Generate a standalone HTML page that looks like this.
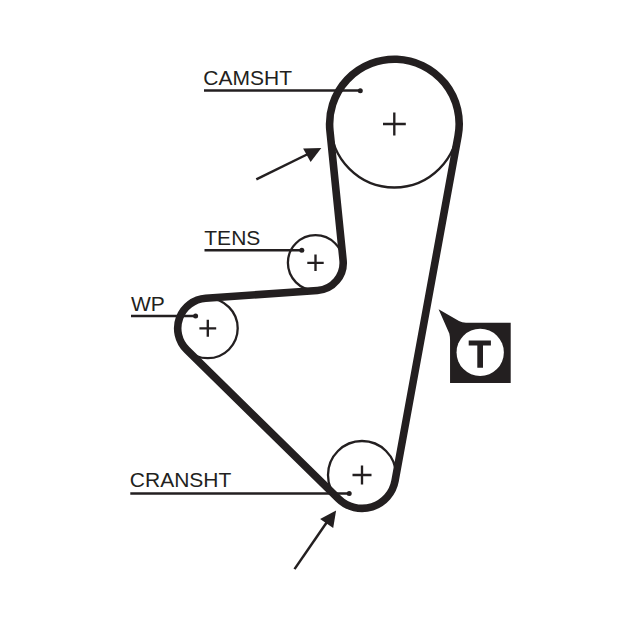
<!DOCTYPE html>
<html><head><meta charset="utf-8"><style>
html,body{margin:0;padding:0;background:#fff;}
body{width:640px;height:628px;overflow:hidden;position:relative;}
svg{position:absolute;left:0;top:0;}
text{font-family:"Liberation Sans",sans-serif;font-size:21px;fill:#231f20;}
</style></head><body>
<svg width="640" height="628" viewBox="0 0 640 628">
<g fill="none" stroke="#231f20" stroke-width="2.3">
<circle cx="394.3" cy="124" r="63.5"/>
<circle cx="315.5" cy="262.8" r="27.6"/>
<circle cx="207.8" cy="328.3" r="29.9"/>
<circle cx="362" cy="475" r="34"/>
</g>
<path d="M458.14 135.65 L395.05 480.84 A33.60 33.60 0 0 1 338.46 498.78 L186.71 349.78 A30.10 30.10 0 0 1 205.69 298.27 L317.44 290.43 A27.70 27.70 0 0 0 343.06 260.01 L329.93 130.54 A64.80 64.80 0 1 1 458.14 135.65 Z" fill="none" stroke="#231f20" stroke-width="7.6" stroke-linejoin="round"/>
<g stroke="#231f20" stroke-width="2.35" fill="none">
<path d="M383 124H405.8M394.3 112.5V135.5"/>
<path d="M307.3 262.8H323.7M315.5 254.6V271"/>
<path d="M199.4 328.3H216.2M207.8 319.8V336.8"/>
<path d="M352.5 475H371.5M362 465.5V484.5"/>
</g>
<g stroke="#231f20" stroke-width="2.5" fill="none">
<path d="M204 90.6H360"/>
<path d="M204.5 250.2H301.8"/>
<path d="M131 316H195.6"/>
<path d="M130.3 493.5H349.2"/>
</g>
<g fill="#231f20">
<circle cx="360.3" cy="90.8" r="2.5"/>
<circle cx="301.8" cy="250.3" r="2.5"/>
<circle cx="195.6" cy="316" r="2.5"/>
<circle cx="349.2" cy="493.5" r="2.5"/>
</g>
<text x="203.3" y="84.7">CAMSHT</text>
<text x="204.3" y="244.6">TENS</text>
<text x="131" y="311.2">WP</text>
<text x="129.8" y="487.4">CRANSHT</text>
<g stroke="#231f20" stroke-width="2.5"><path d="M256.3 179.4L310 153"/><path d="M294.5 569.1L327 522"/></g>
<g fill="#231f20">
<path d="M321.3 148.1L303.1 148.5L310.6 161.9Z"/>
<path d="M336.1 510.6L320.1 518.9L333.2 527.9Z"/>
</g>
<path d="M438.6 309.3L459 320.9Q462 322.65 466 322.65H510.7V382.9H450.05V340Q450.05 337 449.3 333.6Z" fill="#231f20"/>
<circle cx="480.2" cy="352.4" r="23.65" fill="#fff"/>
<path d="M468.7 340.4H490.9V345.6H483V367.7H477.3V345.6H468.7Z" fill="#231f20"/>
</svg>
</body></html>
